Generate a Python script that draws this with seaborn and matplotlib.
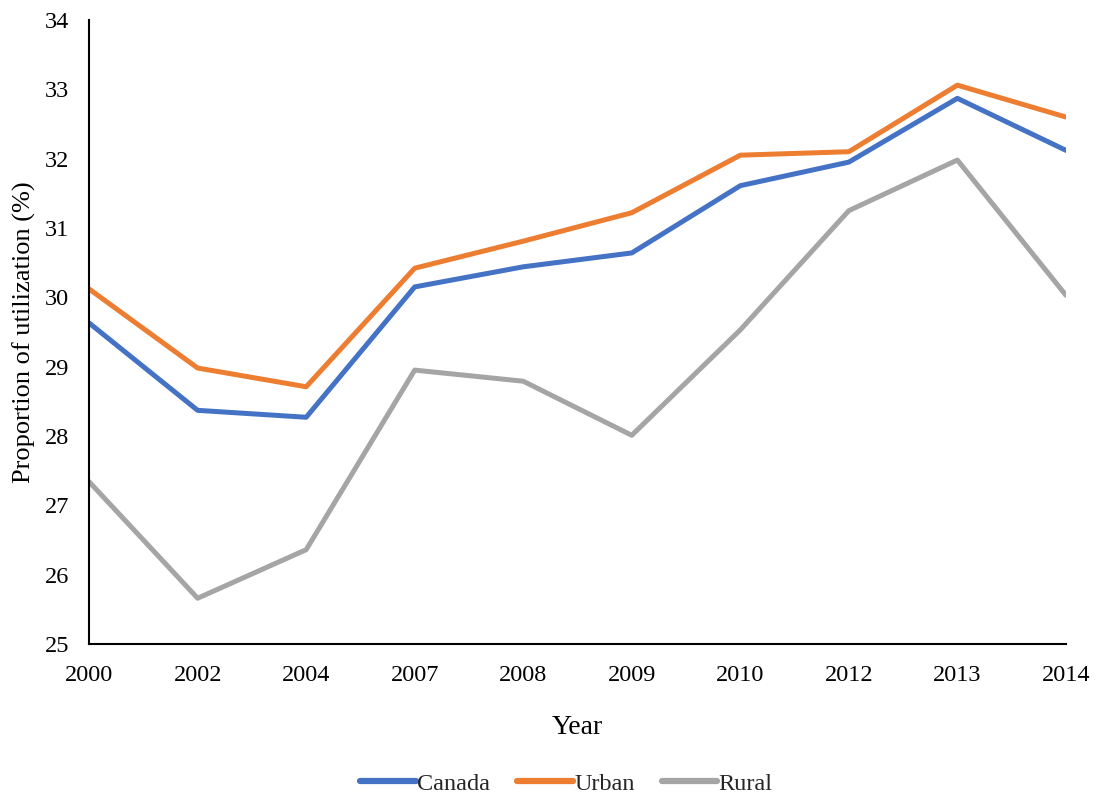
import matplotlib
matplotlib.use("Agg")
import matplotlib.pyplot as plt
import seaborn as sns
import pandas as pd

years = ["2000", "2002", "2004", "2007", "2008", "2009", "2010", "2012", "2013", "2014"]
canada = [29.63, 28.37, 28.27, 30.15, 30.44, 30.64, 31.61, 31.95, 32.87, 32.12]
urban = [30.12, 28.98, 28.71, 30.42, 30.81, 31.22, 32.05, 32.10, 33.06, 32.60]
rural = [27.34, 25.66, 26.36, 28.95, 28.79, 28.01, 29.53, 31.25, 31.98, 30.03]
series_names = ["Canada", "Urban", "Rural"]
colors = ["#4472C4", "#ED7D31", "#A5A5A5"]
y_ticks = [25, 26, 27, 28, 29, 30, 31, 32, 33, 34]

sns.set_theme(style="white")
plt.rcParams["font.family"] = ["Liberation Serif", "DejaVu Serif"]

frames = []
for name, vals in zip(series_names, [canada, urban, rural]):
    frames.append(pd.DataFrame({"Year": years, "Value": vals, "Series": name}))
df = pd.concat(frames, ignore_index=True)

fig = plt.figure(figsize=(11, 7.99), dpi=100)
ax = fig.add_axes([0.081, 0.194, 0.888, 0.781])

sns.lineplot(data=df, x="Year", y="Value", hue="Series", hue_order=series_names,
             palette=colors, linewidth=3.6, sort=False, ax=ax, legend=False)

ax.set_xlim(0, len(years) - 1)
ax.set_ylim(25, 34)
ax.set_yticks(y_ticks)
ax.set_yticklabels([str(t) for t in y_ticks])
ax.set_xticks(range(len(years)))
ax.set_xticklabels(years)
ax.tick_params(axis="both", labelsize=17.5, length=0, colors="#000000")
ax.tick_params(axis="x", pad=15)
ax.tick_params(axis="y", pad=14.5)

for side in ["top", "right"]:
    ax.spines[side].set_visible(False)
for side in ["left", "bottom"]:
    ax.spines[side].set_color("#000000")
    ax.spines[side].set_linewidth(1.5)

ax.set_xlabel("Year", fontsize=20, labelpad=21, color="#000000")
ax.set_ylabel("Proportion of utilization (%)", fontsize=19, labelpad=6, color="#000000")

handles = [plt.Line2D([0], [0], color=c, linewidth=4.5, solid_capstyle="round")
           for c in colors]
fig.legend(handles, series_names, loc="center", bbox_to_anchor=(0.515, 0.019),
           ncol=3, frameon=False, fontsize=17.5, handlelength=2.3,
           handletextpad=0.05, columnspacing=1.1)

fig.savefig("out.png", dpi=100)
